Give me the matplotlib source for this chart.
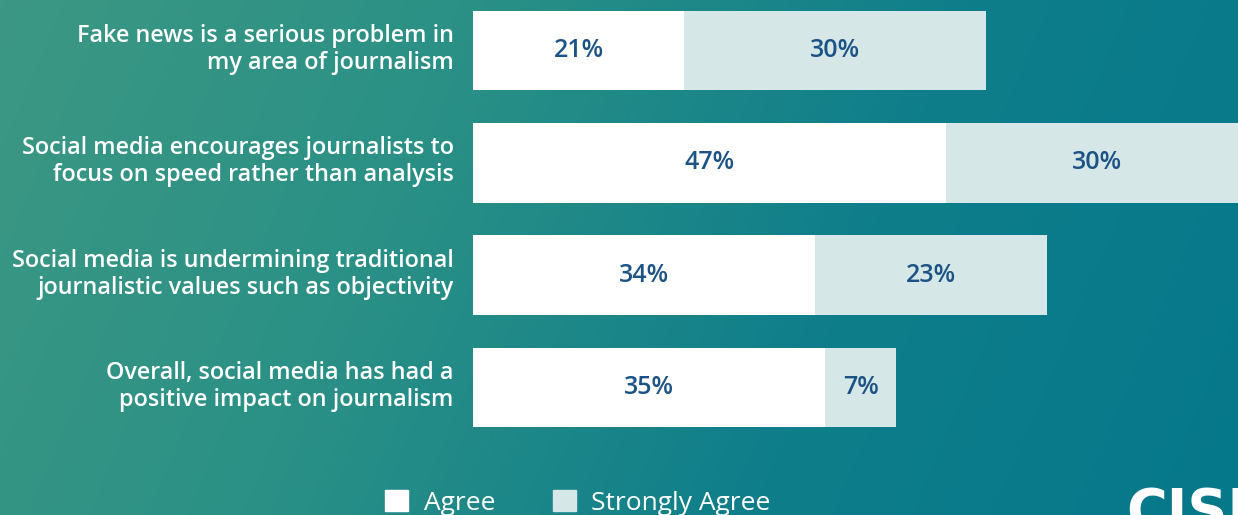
import numpy as np
import matplotlib
matplotlib.use("Agg")
import matplotlib.pyplot as plt
from matplotlib.colors import LinearSegmentedColormap
from matplotlib.patches import Rectangle

categories = [
    "Fake news is a serious problem in\nmy area of journalism",
    "Social media encourages journalists to\nfocus on speed rather than analysis",
    "Social media is undermining traditional\njournalistic values such as objectivity",
    "Overall, social media has had a\npositive impact on journalism",
]
agree = [21, 47, 34, 35]
strongly_agree = [30, 30, 23, 7]
series_names = ["Agree", "Strongly Agree"]

FONT = "Open Sans"
AGREE_C = "#ffffff"
STRONG_C = "#d5e7e7"
VAL_C = "#1c5285"

W, H = 1238, 515
fig = plt.figure(figsize=(W / 100, H / 100), dpi=100)

# background gradient
bg = fig.add_axes([0, 0, 1, 1], zorder=-10)
cmap = LinearSegmentedColormap.from_list("bg", ["#3c9883", "#2a9086", "#0f7e8b", "#05788a"])
xx = np.linspace(0, 1, 400)
yy = np.linspace(0, 1, 200)
X, Y = np.meshgrid(xx, yy)
Z = 0.85 * X + 0.15 * Y
bg.imshow(Z, cmap=cmap, aspect="auto", extent=[0, 1, 0, 1], origin="upper")
bg.axis("off")

ax = fig.add_axes([473 / W, 1 - 438 / H, 1 - 473 / W, 438 / H])
ax.set_facecolor("none")
y = np.arange(len(categories))
h = 0.71
ax.barh(y, agree, height=h, color=AGREE_C, edgecolor="none")
ax.barh(y, strongly_agree, left=agree, height=h, color=STRONG_C, edgecolor="none")
for i in range(len(categories)):
    ax.text(agree[i] / 2, y[i], f"{agree[i]}%", ha="center", va="center",
            color=VAL_C, fontsize=18, family=FONT, fontweight="semibold")
    ax.text(agree[i] + strongly_agree[i] / 2, y[i], f"{strongly_agree[i]}%",
            ha="center", va="center", color=VAL_C, fontsize=18, family=FONT,
            fontweight="semibold")
ax.set_xlim(0, 76)
ax.set_ylim(3.45, -0.45)
ax.set_yticks(y - 0.05)
ax.set_yticklabels(categories, family=FONT, fontsize=16.8, color="white",
                   fontweight="semibold", linespacing=1.18)
ax.tick_params(axis="y", length=0, pad=14)
ax.set_xticks([])
for s in ax.spines.values():
    s.set_visible(False)

# legend
handles = [Rectangle((0, 0), 1, 1, color=AGREE_C), Rectangle((0, 0), 1, 1, color=STRONG_C)]
leg = fig.legend(handles, series_names, loc="center", bbox_to_anchor=(578 / W, 1 - 503 / H),
                 ncol=2, frameon=False, prop={"family": FONT, "size": 19},
                 handlelength=0.85, handleheight=0.85, handletextpad=0.6, columnspacing=2.2)
for t in leg.get_texts():
    t.set_color("white")

# logo (cut off at the edge, as in the reference)
fig.text(1126 / W, 1 - 540 / H, "CISION", color="white", fontsize=40,
         family=["Liberation Sans Narrow", "DejaVu Sans"], fontweight="bold",
         ha="left", va="bottom")

fig.savefig("out.png", dpi=100)
